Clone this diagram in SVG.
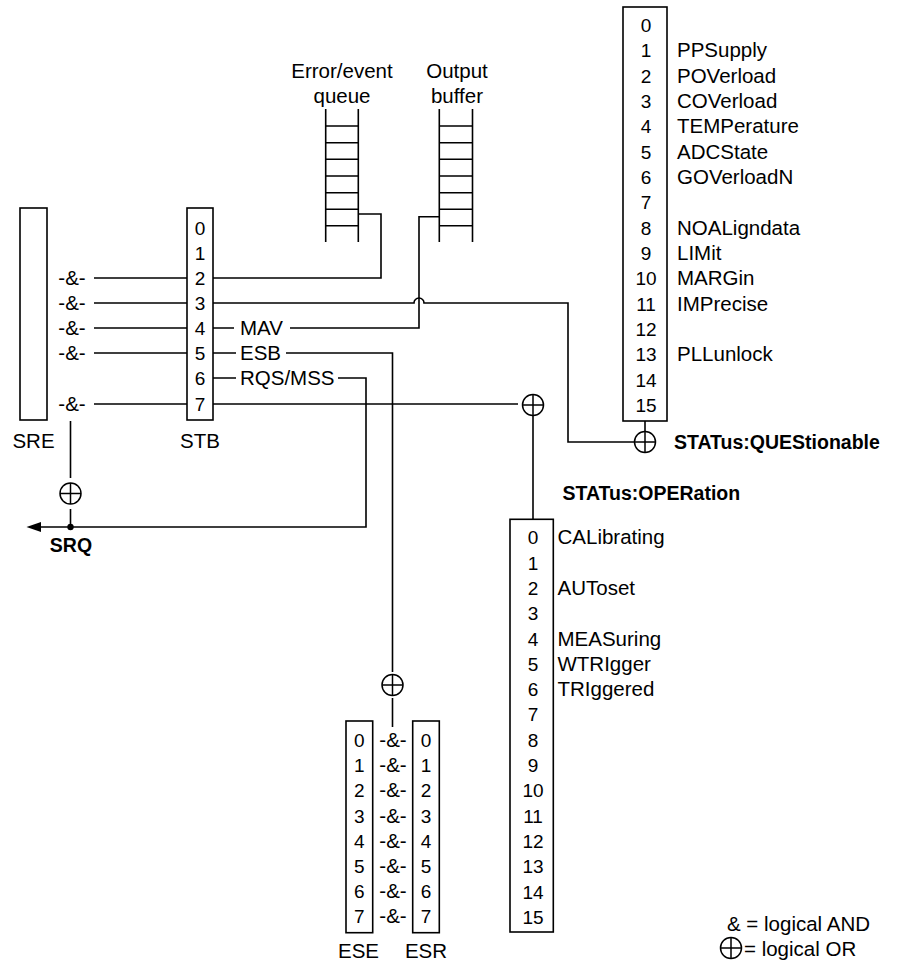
<svg xmlns="http://www.w3.org/2000/svg" xmlns:xlink="http://www.w3.org/1999/xlink" width="902" height="965" viewBox="0 0 902 965">
<style>
text{font-family:"Liberation Sans",Arial,sans-serif;fill:#000}
.d{font-size:19px;text-anchor:middle}
.l{font-size:20.5px}
.c{text-anchor:middle}
.b{font-size:19.5px;font-weight:bold}
.box{fill:#fff;stroke:#000;stroke-width:1.6}
.w{fill:none;stroke:#000;stroke-width:1.6}
</style>
<defs>
<g id="or"><circle cx="0" cy="0" r="10.5" fill="#fff" stroke="#000" stroke-width="1.5"/><path d="M-10.5,0H10.5M0,-10.5V10.5" stroke="#000" stroke-width="1.5"/></g>
</defs>

<g id="connectors" class="w">
<path d="M94,278H187M94,303H187M94,328H187M94,353H187M94,404H187"/>
<path d="M213,278H381V214H358"/>
<path d="M213,303H414A5,5 0 0 1 424,303H568V442H634.5"/>
<path d="M213,328H234M290,328H419V216.7H439"/>
<path d="M213,353H236M286,353H392.5V672"/>
<path d="M392.5,698V727"/>
<path d="M213,378H236M338,378H366V527H40"/>
<path d="M213,404H518"/>
<path d="M533,416V519"/>
<path d="M645,421V431"/>
<path d="M70.5,421V478M70.5,509V527"/>
</g>
<circle cx="70.5" cy="527" r="3.2" fill="#000"/>
<polygon points="26.5,527 41,522 41,532" fill="#000"/>

<g id="SRE">
<rect class="box" x="20" y="208" width="27" height="212"/>
<text class="l c" x="33.5" y="448">SRE</text>
<text class="l c" x="72" y="285">-&amp;-</text>
<text class="l c" x="72" y="310">-&amp;-</text>
<text class="l c" x="72" y="335">-&amp;-</text>
<text class="l c" x="72" y="360">-&amp;-</text>
<text class="l c" x="72" y="411">-&amp;-</text>
</g>

<g id="STB">
<rect class="box" x="187" y="208" width="26" height="212"/>
<text class="d" x="200" y="235">0</text>
<text class="d" x="200" y="260">1</text>
<text class="d" x="200" y="285">2</text>
<text class="d" x="200" y="310">3</text>
<text class="d" x="200" y="335">4</text>
<text class="d" x="200" y="360">5</text>
<text class="d" x="200" y="385">6</text>
<text class="d" x="200" y="411">7</text>
<text class="l c" x="200" y="448">STB</text>
<text class="l" x="240" y="335">MAV</text>
<text class="l" x="240" y="360">ESB</text>
<text class="l" x="240" y="385">RQS/MSS</text>
</g>

<g id="SRQ">
<use xlink:href="#or" x="70.5" y="493.5"/>
<text class="b c" x="71" y="552">SRQ</text>
</g>

<g id="error-queue">
<text class="l c" x="342" y="78">Error/event</text>
<text class="l c" x="342" y="103">queue</text>
<path class="w" d="M325.7,109V242M358.3,109V242M325.7,126H358.3M325.7,142.7H358.3M325.7,159.3H358.3M325.7,176H358.3M325.7,192.7H358.3M325.7,209.3H358.3M325.7,225.7H358.3"/>
</g>

<g id="output-buffer">
<text class="l c" x="457" y="78">Output</text>
<text class="l c" x="457" y="103">buffer</text>
<path class="w" d="M439.3,109V242M472.5,109V242M439.3,126H472.5M439.3,142.7H472.5M439.3,159.3H472.5M439.3,176H472.5M439.3,192.7H472.5M439.3,209.3H472.5M439.3,225.7H472.5"/>
</g>

<g id="QUES">
<rect class="box" x="623" y="7" width="44" height="414"/>
<text class="d" x="646" y="32">0</text>
<text class="d" x="646" y="57.3">1</text>
<text class="d" x="646" y="82.7">2</text>
<text class="d" x="646" y="108">3</text>
<text class="d" x="646" y="133.3">4</text>
<text class="d" x="646" y="158.7">5</text>
<text class="d" x="646" y="184">6</text>
<text class="d" x="646" y="209.3">7</text>
<text class="d" x="646" y="234.7">8</text>
<text class="d" x="646" y="260">9</text>
<text class="d" x="646" y="285.3">10</text>
<text class="d" x="646" y="310.7">11</text>
<text class="d" x="646" y="336">12</text>
<text class="d" x="646" y="361.3">13</text>
<text class="d" x="646" y="386.7">14</text>
<text class="d" x="646" y="412">15</text>
<text class="l" x="677" y="57.3">PPSupply</text>
<text class="l" x="677" y="82.7">POVerload</text>
<text class="l" x="677" y="108">COVerload</text>
<text class="l" x="677" y="133.3">TEMPerature</text>
<text class="l" x="677" y="158.7">ADCState</text>
<text class="l" x="677" y="184">GOVerloadN</text>
<text class="l" x="677" y="234.7">NOALigndata</text>
<text class="l" x="677" y="260">LIMit</text>
<text class="l" x="677" y="285.3">MARGin</text>
<text class="l" x="677" y="310.7">IMPrecise</text>
<text class="l" x="677" y="361.3">PLLunlock</text>
<use xlink:href="#or" x="645" y="442"/>
<text class="b" x="674" y="449">STATus:QUEStionable</text>
</g>

<g id="OPER">
<use xlink:href="#or" x="533" y="405"/>
<text class="b" x="562.5" y="500">STATus:OPERation</text>
<rect class="box" x="510" y="519.3" width="43.3" height="412.7"/>
<text class="d" x="533" y="544.3">0</text>
<text class="d" x="533" y="569.6">1</text>
<text class="d" x="533" y="594.9">2</text>
<text class="d" x="533" y="620.2">3</text>
<text class="d" x="533" y="645.5">4</text>
<text class="d" x="533" y="670.8">5</text>
<text class="d" x="533" y="696.1">6</text>
<text class="d" x="533" y="721.4">7</text>
<text class="d" x="533" y="746.7">8</text>
<text class="d" x="533" y="772">9</text>
<text class="d" x="533" y="797.3">10</text>
<text class="d" x="533" y="822.6">11</text>
<text class="d" x="533" y="847.9">12</text>
<text class="d" x="533" y="873.2">13</text>
<text class="d" x="533" y="898.5">14</text>
<text class="d" x="533" y="923.8">15</text>
<text class="l" x="557.5" y="544.3">CALibrating</text>
<text class="l" x="557.5" y="594.9">AUToset</text>
<text class="l" x="557.5" y="645.5">MEASuring</text>
<text class="l" x="557.5" y="670.8">WTRIgger</text>
<text class="l" x="557.5" y="696.1">TRIggered</text>
</g>

<g id="ESE-ESR">
<use xlink:href="#or" x="392.5" y="685"/>
<rect class="box" x="346" y="721" width="26.7" height="211.7"/>
<rect class="box" x="412.7" y="721" width="26.6" height="211.7"/>
<g class="d">
<text x="359.3" y="747">0</text><text x="359.3" y="772.2">1</text><text x="359.3" y="797.4">2</text><text x="359.3" y="822.6">3</text><text x="359.3" y="847.8">4</text><text x="359.3" y="873">5</text><text x="359.3" y="898.2">6</text><text x="359.3" y="923.4">7</text>
<text x="426" y="747">0</text><text x="426" y="772.2">1</text><text x="426" y="797.4">2</text><text x="426" y="822.6">3</text><text x="426" y="847.8">4</text><text x="426" y="873">5</text><text x="426" y="898.2">6</text><text x="426" y="923.4">7</text>
</g>
<g class="l c">
<text x="393" y="747">-&amp;-</text><text x="393" y="772.2">-&amp;-</text><text x="393" y="797.4">-&amp;-</text><text x="393" y="822.6">-&amp;-</text><text x="393" y="847.8">-&amp;-</text><text x="393" y="873">-&amp;-</text><text x="393" y="898.2">-&amp;-</text><text x="393" y="923.4">-&amp;-</text>
</g>
<text class="l c" x="358.5" y="958">ESE</text>
<text class="l c" x="426" y="958">ESR</text>
</g>

<g id="legend">
<text class="l" x="727" y="930.5">&amp; = logical AND</text>
<use xlink:href="#or" x="731" y="948"/>
<text class="l" x="744" y="955.5">= logical OR</text>
</g>
</svg>
